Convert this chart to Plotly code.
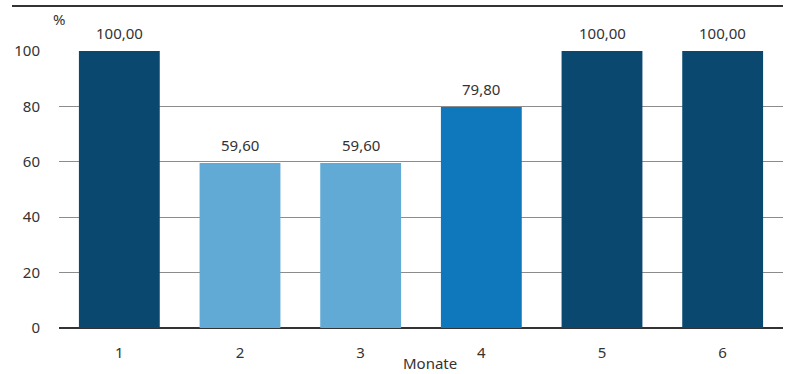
import plotly.graph_objects as go

categories = ["1", "2", "3", "4", "5", "6"]
values = [100.00, 59.60, 59.60, 79.80, 100.00, 100.00]
labels = ["100,00", "59,60", "59,60", "79,80", "100,00", "100,00"]
colors = ["#0B4870", "#62AAD6", "#62AAD6", "#0F77BC", "#0B4870", "#0B4870"]
y_ticks = [0, 20, 40, 60, 80, 100]

FONT = "Noto Sans, sans-serif"
FS = 15

fig = go.Figure(go.Bar(
    x=categories, y=values, marker_color=colors, marker_line_width=0,
    width=0.67,
))

L, R, T, B = 59, 10, 51, 46
annotations = [dict(x=i, y=v, text=t, xref="x", yref="y", showarrow=False,
                    yanchor="bottom", yshift=6,
                    font=dict(size=FS, color="#333333", family=FONT))
               for i, (v, t) in enumerate(zip(values, labels))]
annotations.append(dict(text="%", xref="paper", yref="paper", x=0.0, y=1.0, yshift=20,
                        xanchor="center", yanchor="bottom", showarrow=False,
                        font=dict(size=FS, color="#333333", family=FONT)))
annotations.append(dict(text="Monate", xref="paper", yref="paper", x=(430 - L) / 724, y=0,
                        yshift=-35, xanchor="center", yanchor="middle", showarrow=False,
                        font=dict(size=FS, color="#333333", family=FONT)))
fig.update_layout(
    width=793, height=374,
    margin=dict(l=L, r=R, t=T, b=B),
    paper_bgcolor="white", plot_bgcolor="white",
    font=dict(family=FONT, size=FS, color="#333333"),
    showlegend=False,
    xaxis=dict(type="category", showgrid=False, ticks="", ticklabelstandoff=14,
               automargin=False),
    yaxis=dict(range=[0, 100], tickvals=y_ticks, showgrid=True, gridcolor="#8c8c8c",
               gridwidth=1, zeroline=True, zerolinecolor="#333333", zerolinewidth=1.5,
               ticks="", ticklabelstandoff=18, showline=False, automargin=False),
    annotations=annotations,
    shapes=[dict(type="line", xref="paper", yref="paper", x0=-47/724, x1=1.0,
                 y0=45, y1=45, ysizemode="pixel", yanchor=1.0,
                 line=dict(color="#333333", width=2))],
)
fig.write_html("out.html")
